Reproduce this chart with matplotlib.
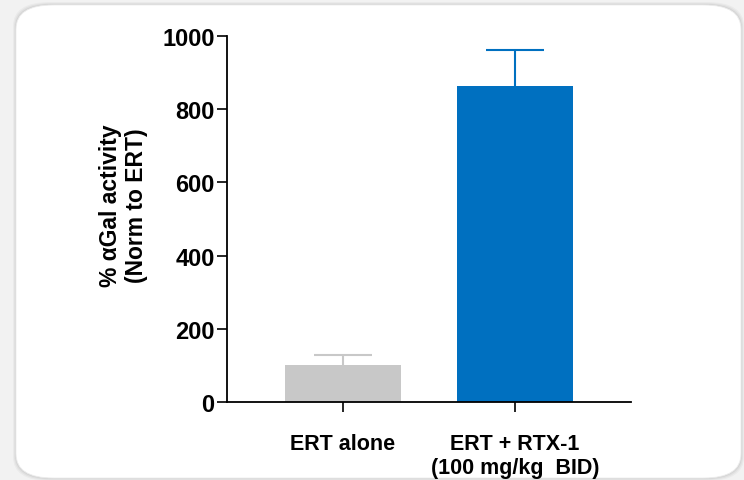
import matplotlib
matplotlib.use("Agg")
import matplotlib.pyplot as plt
from matplotlib.patches import FancyBboxPatch

categories = ["ERT alone", "ERT + RTX-1\n(100 mg/kg  BID)"]
values = [100, 863]
errors = [28, 98]
bar_colors = ["#c8c8c8", "#0070c0"]
yticks = [0, 200, 400, 600, 800, 1000]

fig = plt.figure(figsize=(7.44, 4.81), dpi=100)
fig.patch.set_facecolor("#f2f2f2")

# card background with soft shadow
W, H = 744, 481
for i, a in enumerate([0.03, 0.04, 0.05]):
    off = 3 - i
    sh = FancyBboxPatch(((16 - off) / W, (H - 479 - off) / H), (725 + 2 * off) / W, (473 + 2 * off) / H,
                        boxstyle="round,pad=0,rounding_size=0.05", transform=fig.transFigure,
                        facecolor="black", alpha=a, edgecolor="none", zorder=0)
    fig.patches.append(sh)
card = FancyBboxPatch((16 / W, (H - 479) / H), 725 / W, 473 / H,
                      boxstyle="round,pad=0,rounding_size=0.05", transform=fig.transFigure,
                      facecolor="white", edgecolor="#ececec", linewidth=0.6, zorder=1)
fig.patches.append(card)

ax = fig.add_axes([227 / W, 1 - 403 / H, (631 - 227) / W, (403 - 37) / H])
ax.set_facecolor("none")
ax.set_zorder(2)

x = list(range(len(categories)))
for xi, v, e, c in zip(x, values, errors, bar_colors):
    ax.bar(xi, v, width=0.67, color=c, zorder=2)
    eb = ax.errorbar(xi, v, yerr=[[0], [e]], fmt="none", ecolor=c, elinewidth=1.5,
                     capsize=21, capthick=1.5, zorder=1)
    eb[1][0].set_visible(False)

ax.set_xlim(-0.674, 1.674)
ax.set_ylim(0, 1000)
ax.set_yticks(yticks)
ax.set_yticklabels([str(t) for t in yticks], fontsize=17, fontweight="bold",
                   family="Liberation Sans")
ax.set_xticks(x)
ax.set_xticklabels(categories, fontsize=15.5, fontweight="bold", family="Liberation Sans",
                   linespacing=1.2, va="top")
ax.tick_params(axis="y", length=7, width=1.2, pad=2)
ax.tick_params(axis="x", length=7, width=1.2, pad=15)
for s in ["top", "right"]:
    ax.spines[s].set_visible(False)
for s in ["left", "bottom"]:
    ax.spines[s].set_linewidth(1.3)

ax.set_ylabel("% αGal activity\n(Norm to ERT)", fontsize=16.5, fontweight="bold",
              family="Liberation Sans", linespacing=1.15)
ax.yaxis.set_label_coords(-0.196, 0.54)

fig.savefig("out.png", dpi=100, facecolor=fig.get_facecolor())
